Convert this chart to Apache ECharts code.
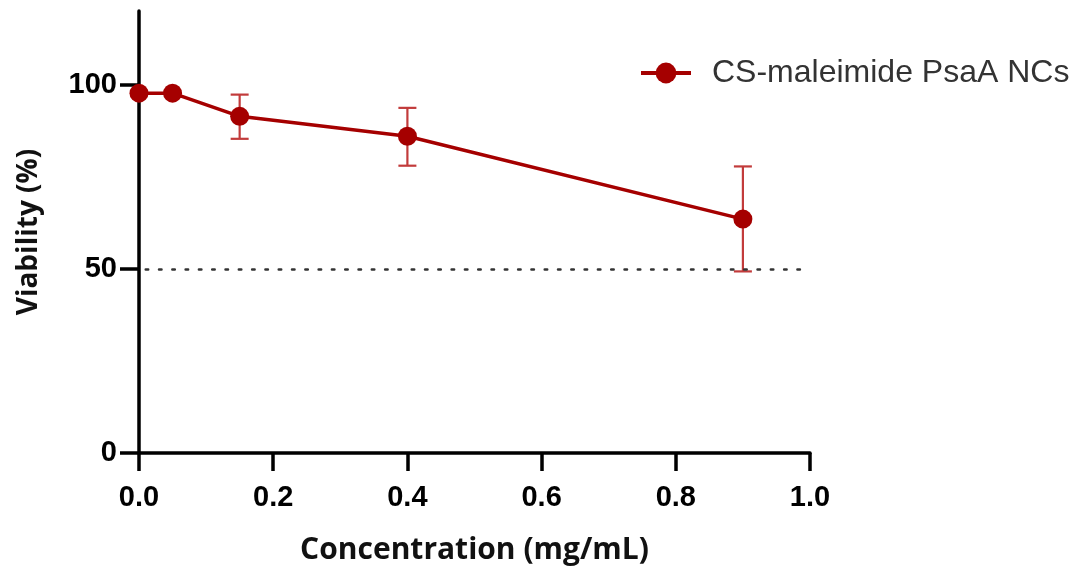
<!DOCTYPE html>
<html>
<head>
<meta charset="utf-8">
<script src="https://cdn.jsdelivr.net/npm/echarts@6/dist/echarts.min.js"></script>
<style>
  html, body { margin: 0; padding: 0; background: #fff; }
  #chart { width: 1083px; height: 576px; }
</style>
</head>
<body>
<div id="chart"></div>
<script>
// Concentration (mg/mL) and mean viability (%) with upper / lower error bounds
const concentration = [0, 0.05, 0.15, 0.4, 0.9];
const viability = [97.7, 97.7, 91.4, 86.0, 63.5];
const errUpper = [97.7, 97.7, 97.3, 93.7, 77.8];
const errLower = [97.7, 97.7, 85.3, 78.0, 49.3];
const xTicks = [0, 0.2, 0.4, 0.6, 0.8, 1.0];
const yTicks = [0, 50, 100];
const thresholdLine = 50;
const seriesName = 'CS-maleimide PsaA NCs';

const red = '#a50000';
const errRed = '#c23b3b';

const points = concentration.map((c, i) => [c, viability[i]]);
const errData = concentration.map((c, i) => [c, errLower[i], errUpper[i]]);

const chart = echarts.init(document.getElementById('chart'));

const tickFont = {
  fontFamily: 'Liberation Sans, Arial, sans-serif',
  fontWeight: 'bold',
  fontSize: 29,
  color: '#000'
};
const titleFont = {
  fontFamily: 'Open Sans, sans-serif',
  fontWeight: 'bold',
  color: '#111'
};

chart.setOption({
  animation: false,
  grid: { left: 139, right: 273, top: 11, bottom: 123, containLabel: false },
  legend: {
    data: [seriesName],
    left: 634,
    top: 52,
    itemWidth: 50,
    itemHeight: 26,
    itemGap: 10,
    lineStyle: { width: 4 },
    textStyle: {
      fontFamily: 'Liberation Sans, Arial, sans-serif',
      fontSize: 32,
      color: '#333',
      padding: [0, 0, 0, 16]
    }
  },
  xAxis: {
    type: 'value',
    min: 0,
    max: 1,
    interval: 0.2,
    name: 'Concentration (mg/mL)',
    nameLocation: 'middle',
    nameGap: 82,
    nameTextStyle: { ...titleFont, fontSize: 30 },
    splitLine: { show: false },
    axisLine: { show: true, onZero: false, lineStyle: { color: '#000', width: 3.5 } },
    axisTick: { show: true, length: 18, lineStyle: { color: '#000', width: 3.5 }, customValues: xTicks },
    axisLabel: { margin: 30, formatter: v => v.toFixed(1), customValues: xTicks, ...tickFont }
  },
  yAxis: {
    type: 'value',
    min: 0,
    max: 120,
    interval: 50,
    name: 'Viability (%)',
    nameLocation: 'middle',
    nameGap: 96,
    nameTextStyle: { ...titleFont, fontSize: 28 },
    splitLine: { show: false },
    axisLine: { show: true, onZero: false, lineStyle: { color: '#000', width: 3.5 } },
    axisTick: { show: true, length: 19, lineStyle: { color: '#000', width: 3.5 }, customValues: yTicks },
    axisLabel: { margin: 22, customValues: yTicks, ...tickFont }
  },
  series: [
    {
      name: 'threshold',
      type: 'line',
      data: [],
      silent: true,
      markLine: {
        silent: true,
        symbol: 'none',
        label: { show: false },
        lineStyle: { color: '#333', width: 2.5, type: [2.5, 10.8], cap: 'round' },
        data: [[{ coord: [0.01, thresholdLine] }, { coord: [1, thresholdLine] }]]
      }
    },
    {
      name: 'errors',
      type: 'custom',
      silent: true,
      z: 3,
      data: errData,
      renderItem: function (params, api) {
        const x = api.value(0);
        const lo = api.coord([x, api.value(1)]);
        const hi = api.coord([x, api.value(2)]);
        const cap = 9;
        const style = { stroke: errRed, lineWidth: 2.2, fill: null };
        return {
          type: 'group',
          children: [
            { type: 'line', shape: { x1: lo[0], y1: lo[1], x2: hi[0], y2: hi[1] }, style },
            { type: 'line', shape: { x1: hi[0] - cap, y1: hi[1], x2: hi[0] + cap, y2: hi[1] }, style },
            { type: 'line', shape: { x1: lo[0] - cap, y1: lo[1], x2: lo[0] + cap, y2: lo[1] }, style }
          ]
        };
      }
    },
    {
      name: seriesName,
      type: 'line',
      z: 5,
      data: points,
      symbol: 'circle',
      symbolSize: 19,
      itemStyle: { color: red },
      lineStyle: { color: red, width: 3.5 }
    }
  ]
});
</script>
</body>
</html>
